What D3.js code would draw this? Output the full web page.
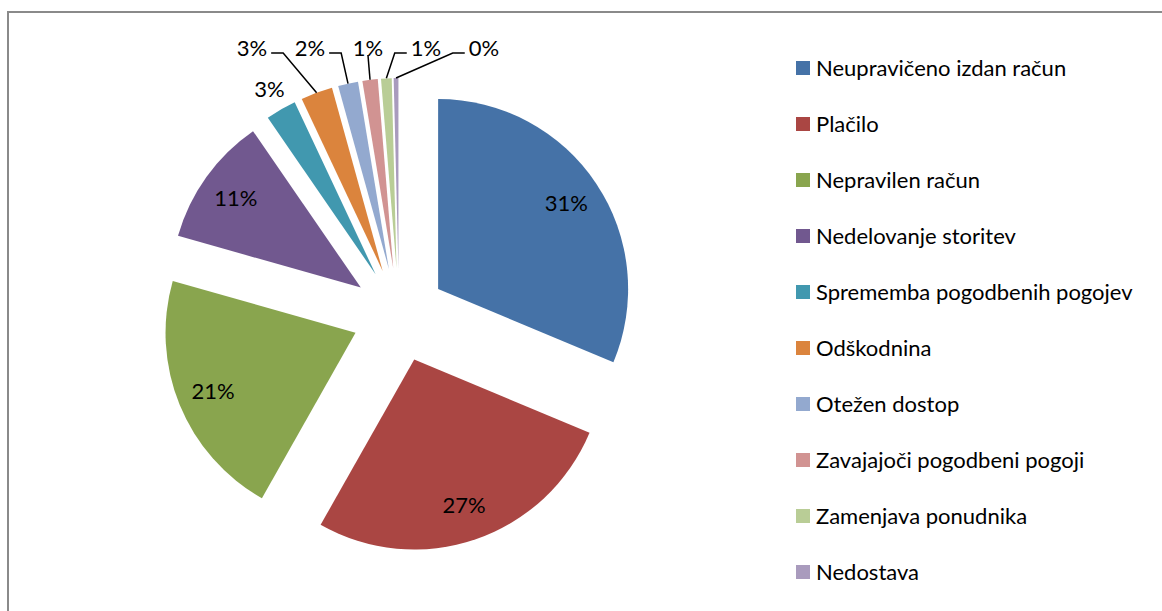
<!DOCTYPE html>
<meta charset="utf-8">
<style>
body { margin: 0; background: #fff; }
text { font-family: Lato, "Open Sans", sans-serif; fill: #000; }
</style>
<body>
<svg width="1162" height="611"></svg>
<script src="https://d3js.org/d3.v7.min.js"></script>
<script>

// chart data (shares in %)
var categories = ["Neupravičeno izdan račun", "Plačilo", "Nepravilen račun", "Nedelovanje storitev",
  "Sprememba pogodbenih pogojev", "Odškodnina", "Otežen dostop", "Zavajajoči pogodbeni pogoji",
  "Zamenjava ponudnika", "Nedostava"];
var shares = [31.3, 26.9, 21.2, 11.0, 2.6, 2.7, 1.7, 1.3, 0.9, 0.4];
var colors = ["#4572A7", "#AA4643", "#89A54E", "#71588F", "#4198AF",
  "#DB843D", "#93A9CF", "#D19392", "#B9CD96", "#A99BBD"];

var svg = d3.select("svg");
var fontSize = 22;

// frame
svg.append("rect")
    .attr("x", 8).attr("y", 12)
    .attr("width", 1170).attr("height", 620)
    .attr("fill", "none")
    .attr("stroke", "#8a8a8a")
    .attr("stroke-width", 2);

var cx = 399, cy = 315,
    radius = 190,
    explode = 47;

var total = d3.sum(shares);
var data = categories.map(function(c, i) { return {name: c, value: shares[i], color: colors[i]}; });

var pie = d3.pie().sort(null).value(function(d) { return d.value; });
var arc = d3.arc().innerRadius(0).outerRadius(radius);
var arcs = pie(data);

function dir(a) { return [Math.sin(a), -Math.cos(a)]; }
function pct(d) { return d3.format(".0%")(d.data.value / total); }

var g = svg.append("g").attr("transform", "translate(" + cx + "," + cy + ")");

g.selectAll("path.slice")
  .data(arcs)
  .enter().append("path")
    .attr("class", "slice")
    .attr("d", arc)
    .attr("fill", function(d) { return d.data.color; })
    .attr("transform", function(d) {
      var m = dir((d.startAngle + d.endAngle) / 2);
      return "translate(" + m[0] * explode + "," + m[1] * explode + ")";
    });

// inside labels for the big slices
var inside = arcs.filter(function(d) { return d.data.value / total >= 0.05; });
g.selectAll("text.inlabel")
  .data(inside)
  .enter().append("text")
    .attr("class", "inlabel")
    .attr("x", function(d) { return dir((d.startAngle + d.endAngle) / 2)[0] * (explode + radius * 0.81); })
    .attr("y", function(d) { return dir((d.startAngle + d.endAngle) / 2)[1] * (explode + radius * 0.81); })
    .attr("dy", "0.35em")
    .attr("text-anchor", "middle")
    .style("font-size", fontSize + "px")
    .text(pct);

// outside labels for the small slices
var outside = arcs.filter(function(d) { return d.data.value / total < 0.05; });
var labelR = radius + explode + 23;
outside.forEach(function(d) {
  d.mid = (d.startAngle + d.endAngle) / 2;
  var m = dir(d.mid);
  d.lx = m[0] * labelR;
  d.ly = m[1] * labelR;
  d.px = m[0] * (radius + explode);
  d.py = m[1] * (radius + explode);
  d.crowded = Math.abs(d.mid - 2 * Math.PI) < 25 * Math.PI / 180;
});

// spread the crowded labels near the top in a row
var crowded = outside.filter(function(d) { return d.crowded; });
var meanX = d3.mean(crowded, function(d) { return d.lx; }) + 8;
var gap = 58;
crowded.forEach(function(d, i) {
  d.lx = meanX + (i - (crowded.length - 1) / 2) * gap;
  d.ly = -(labelR + 7);
});

var outText = g.selectAll("text.outlabel")
  .data(outside)
  .enter().append("text")
    .attr("class", "outlabel")
    .attr("x", function(d) { return d.lx; })
    .attr("y", function(d) { return d.ly; })
    .attr("dy", "0.35em")
    .attr("text-anchor", "middle")
    .style("font-size", fontSize + "px")
    .text(pct);

outText.each(function(d) { d.w = this.getComputedTextLength(); });

g.selectAll("polyline.leader")
  .data(crowded)
  .enter().append("polyline")
    .attr("class", "leader")
    .attr("fill", "none")
    .attr("stroke", "#000")
    .attr("stroke-width", 1.5)
    .attr("points", function(d) {
      var pts;
      if (Math.abs(d.lx - d.px) < 12) {
        pts = [[d.lx, d.ly + 7], [d.px, d.py]];
      } else if (d.lx < d.px) {
        var sx = d.lx + d.w / 2 + 4;
        pts = [[sx, d.ly + 5], [sx + 12, d.ly + 5], [d.px, d.py]];
      } else {
        var sx2 = d.lx - d.w / 2 - 4;
        pts = [[sx2, d.ly + 5], [sx2 - 12, d.ly + 5], [d.px, d.py]];
      }
      return pts.map(function(p) { return p.join(","); }).join(" ");
    });

// legend
var legend = svg.append("g")
  .selectAll("g")
  .data(data)
  .enter().append("g")
    .attr("transform", function(d, i) { return "translate(796," + (68 + i * 56) + ")"; });

legend.append("rect")
    .attr("x", 0)
    .attr("y", -7)
    .attr("width", 14)
    .attr("height", 14)
    .attr("fill", function(d) { return d.color; });

legend.append("text")
    .attr("x", 20)
    .attr("dy", "0.35em")
    .style("font-size", fontSize + "px")
    .text(function(d) { return d.name; });

</script>
</body>
